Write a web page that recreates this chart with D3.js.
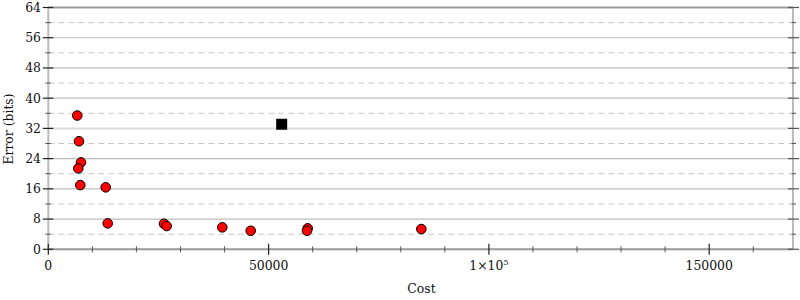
<!DOCTYPE html>
<html><head><meta charset="utf-8">
<script src="https://cdn.jsdelivr.net/npm/d3@7"></script>
<style>
body{margin:0;background:#fff;}
text{font-family:"DejaVu Serif",serif;font-size:12.4px;fill:#111;}
</style></head>
<body><svg id="c" width="800" height="300"></svg>
<script>
const costs  = [6580, 6970, 7420, 6810, 7260, 13030, 13480, 26260, 26870, 39490, 45940, 58870, 58720, 84660];
const errors = [35.4, 28.6, 23.0, 21.4, 17.0, 16.4, 6.86, 6.76, 6.15, 5.81, 4.91, 5.54, 4.91, 5.36];
const startCost = [52970];
const startError = [33.1];
const xMajorTicks = [0, 50000, 100000, 150000];
const xTickLabels = ["0", "50000", "1×10^5", "150000"];
const yMajorTicks = [0, 8, 16, 24, 32, 40, 48, 56, 64];
const yMinorTicks = [4, 12, 20, 28, 36, 44, 52, 60];
const xLabel = "Cost", yLabel = "Error (bits)";

const L = 48.3, R = 793, T = 7.5, B = 249.3;
const x = d3.scaleLinear().domain([0, 169020]).range([L, R]);
const y = d3.scaleLinear().domain([0, 64]).range([B, T]);
const svg = d3.select("#c");

// grid
svg.selectAll(".gmin").data(yMinorTicks).enter().append("line")
  .attr("x1", L).attr("x2", R).attr("y1", d => y(d)).attr("y2", d => y(d))
  .attr("stroke", "#c8c8c8").attr("stroke-width", 1).attr("stroke-dasharray", "6,4");
svg.selectAll(".gmaj").data(yMajorTicks.filter(d => d > 0 && d < 64)).enter().append("line")
  .attr("x1", L).attr("x2", R).attr("y1", d => y(d)).attr("y2", d => y(d))
  .attr("stroke", d => d === 32 ? "#dcdcdc" : "#bdbdbd").attr("stroke-width", d => d === 32 ? 2 : 1.2);
// top line
svg.append("line").attr("x1", L).attr("x2", R).attr("y1", y(64)).attr("y2", y(64))
  .attr("stroke", "#999").attr("stroke-width", 2);
// left & right axis lines
svg.append("line").attr("x1", L).attr("x2", L).attr("y1", T).attr("y2", B).attr("stroke", "#bbb").attr("stroke-width", 2);
svg.append("line").attr("x1", R).attr("x2", R).attr("y1", T).attr("y2", B).attr("stroke", "#bbb").attr("stroke-width", 2);
// x axis line
svg.append("line").attr("x1", L).attr("x2", R).attr("y1", B).attr("y2", B).attr("stroke", "#999").attr("stroke-width", 2);

// y ticks left
svg.selectAll(".ylt").data(yMajorTicks).enter().append("line")
  .attr("x1", L - 5.5).attr("x2", L + 5).attr("y1", d => y(d)).attr("y2", d => y(d))
  .attr("stroke", "#222").attr("stroke-width", 1.2);
svg.selectAll(".ylm").data(yMinorTicks).enter().append("line")
  .attr("x1", L - 3).attr("x2", L + 2.5).attr("y1", d => y(d)).attr("y2", d => y(d))
  .attr("stroke", "#555").attr("stroke-width", 1);
// y ticks right
svg.selectAll(".yrt").data(yMajorTicks).enter().append("line")
  .attr("x1", R - 5).attr("x2", R + 6).attr("y1", d => y(d)).attr("y2", d => y(d))
  .attr("stroke", "#555").attr("stroke-width", 1.2);
svg.selectAll(".yrm").data(yMinorTicks).enter().append("line")
  .attr("x1", R - 1.5).attr("x2", R + 3).attr("y1", d => y(d)).attr("y2", d => y(d))
  .attr("stroke", "#555").attr("stroke-width", 1);
// y labels
svg.selectAll(".yl").data(yMajorTicks).enter().append("text")
  .attr("x", 41).attr("y", d => y(d)).attr("dy", "0.35em").attr("text-anchor", "end").text(d => d);

// x ticks
const xMinor = d3.range(10000, 169020, 10000).filter(d => d % 50000 !== 0);
svg.selectAll(".xmt").data(xMajorTicks).enter().append("line")
  .attr("x1", d => x(d)).attr("x2", d => x(d)).attr("y1", B - 5.5).attr("y2", B + 5.5)
  .attr("stroke", "#222").attr("stroke-width", 1.2);
svg.selectAll(".xmn").data(xMinor).enter().append("line")
  .attr("x1", d => x(d)).attr("x2", d => x(d)).attr("y1", B - 3).attr("y2", B + 3)
  .attr("stroke", "#555").attr("stroke-width", 1);
// x labels
xMajorTicks.forEach((v, i) => {
  const lab = xTickLabels[i];
  const t = svg.append("text").attr("x", x(v)).attr("y", 270).attr("text-anchor", "middle");
  if (lab.includes("^")) {
    const [base, exp] = lab.split("^");
    t.append("tspan").text(base);
    t.append("tspan").attr("dy", "-5").style("font-size", "8px").text(exp);
  } else t.text(lab);
});

// axis titles
svg.append("text").attr("x", 421.5).attr("y", 293).attr("text-anchor", "middle").text(xLabel);
svg.append("text").attr("transform", "translate(12.5,129) rotate(-90)").attr("text-anchor", "middle").text(yLabel);

// points
svg.selectAll(".pt").data(costs.map((c, i) => [c, errors[i]])).enter().append("circle")
  .attr("cx", d => x(d[0])).attr("cy", d => y(d[1])).attr("r", 4.8)
  .attr("fill", "#f00").attr("stroke", "#000").attr("stroke-width", 1);
svg.selectAll(".sq").data(startCost.map((c, i) => [c, startError[i]])).enter().append("rect")
  .attr("x", d => x(d[0]) - 5.5).attr("y", d => y(d[1]) - 5.5).attr("width", 11).attr("height", 11)
  .attr("fill", "#000");
</script></body></html>
